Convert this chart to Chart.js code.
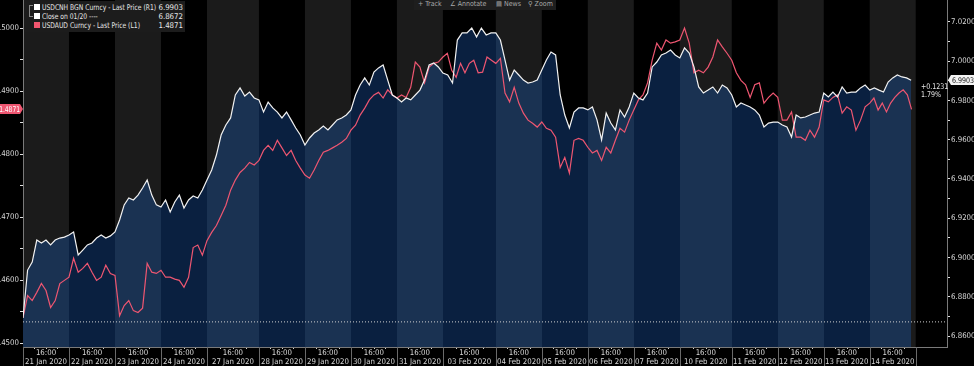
<!DOCTYPE html>
<html><head><meta charset="utf-8">
<script src="https://cdn.jsdelivr.net/npm/chart.js@4.4.1/dist/chart.umd.min.js"></script>
<style>
html,body{margin:0;padding:0;background:#000;overflow:hidden;}
#wrap{position:relative;width:974px;height:366px;}
#wrap canvas{display:block;}
.f{font-family:"Liberation Sans Narrow","DejaVu Sans Condensed","Liberation Sans",Arial,sans-serif;}
#legend{position:absolute;left:25px;top:1px;width:160px;height:31px;background:#1c1c1c;color:#e8e8e8;font-size:7.8px;}
#legend .row{position:absolute;left:9px;right:2px;height:9px;line-height:9px;}
#legend .sw{position:absolute;left:0;top:1px;width:6px;height:6px;}
#legend .nm{position:absolute;left:8px;top:0;white-space:nowrap;transform:scaleX(0.86);transform-origin:left center;}
#legend .vl{position:absolute;right:0;top:0;}
#brk{position:absolute;left:4px;top:4px;width:3px;height:10px;border-left:1px solid #888;border-top:1px solid #888;border-bottom:1px solid #888;}
#toolbar{position:absolute;left:414px;top:0;width:142px;height:10px;background:#1e1e1e;color:#a8a8a8;font-size:7px;line-height:9px;white-space:nowrap;}
#toolbar span{position:absolute;top:0;}
</style></head>
<body>
<div id="wrap">
<canvas id="c" width="974" height="366"></canvas>
<div id="legend" class="f">
  <div id="brk"></div>
  <div class="row" style="top:2px"><div class="sw" style="background:#fff"></div><div class="nm">USDCNH BGN Curncy - Last Price (R1)</div><div class="vl" id="v1"></div></div>
  <div class="row" style="top:11px"><div class="sw" style="background:#fff"></div><div class="nm">Close on 01/20 ----</div><div class="vl" id="v2"></div></div>
  <div class="row" style="top:20px"><div class="sw" style="background:#f0566f"></div><div class="nm">USDAUD Curncy - Last Price (L1)</div><div class="vl" id="v3"></div></div>
</div>
<div id="toolbar" class="f">
  <span style="left:4px">+ Track</span>
  <span style="left:36px">∠ Annotate</span>
  <span style="left:82px">▤ News</span>
  <span style="left:114px">⚲ Zoom</span>
</div>
</div>
<script>
// ---------- DATA ----------
const timeLabel = '16:00';
const dayLabels = ['21 Jan 2020','22 Jan 2020','23 Jan 2020','24 Jan 2020','27 Jan 2020','28 Jan 2020','29 Jan 2020','30 Jan 2020','31 Jan 2020','03 Feb 2020','04 Feb 2020','05 Feb 2020','06 Feb 2020','07 Feb 2020','10 Feb 2020','11 Feb 2020','12 Feb 2020','13 Feb 2020','14 Feb 2020'];
// session length in days (Mondays include the weekend re-open)
const dayLengths = [1,1,1,1,1.13,1,1,1,1,1.15,1,1,1,1,1.13,1,1,1,1];

// USDCNH BGN Curncy (right axis), intraday values per day
const usdcnh = [
 [6.8692,6.8936,6.8977,6.9089,6.9074,6.9089,6.9064,6.9089,6.9099,6.9104],
 [6.9115,6.9130,6.9013,6.9038,6.9064,6.9074,6.9099,6.9115,6.9099,6.9110],
 [6.9130,6.9191,6.9268,6.9303,6.9293,6.9318,6.9354,6.9395,6.9318,6.9268],
 [6.9257,6.9293,6.9232,6.9283,6.9318,6.9252,6.9293,6.9313,6.9303,6.9344],
 [6.9395,6.9446,6.9522,6.9624,6.9675,6.9711,6.9828,6.9864,6.9823,6.9843,6.9813],
 [6.9803,6.9741,6.9792,6.9762,6.9741,6.9711,6.9741,6.9701,6.9660,6.9624],
 [6.9573,6.9609,6.9634,6.9650,6.9670,6.9650,6.9675,6.9701,6.9711,6.9726],
 [6.9752,6.9828,6.9879,6.9915,6.9879,6.9945,6.9966,6.9981,6.9904,6.9828],
 [6.9813,6.9792,6.9813,6.9803,6.9828,6.9853,6.9904,6.9981,6.9991,6.9971],
 [6.9940,6.9930,6.9889,7.0108,7.0144,7.0144,7.0169,7.0124,7.0169,7.0134,7.0144],
 [7.0144,7.0108,7.0006,6.9904,6.9955,6.9930,6.9904,6.9889,6.9894,6.9904],
 [6.9955,7.0006,7.0047,7.0032,6.9828,6.9726,6.9660,6.9741,6.9762,6.9762],
 [6.9752,6.9767,6.9701,6.9599,6.9736,6.9685,6.9650,6.9752,6.9716,6.9767],
 [6.9838,6.9813,6.9803,6.9838,6.9971,6.9996,7.0032,7.0042,7.0057,7.0032],
 [7.0017,7.0068,7.0042,6.9971,6.9869,6.9838,6.9853,6.9869,6.9838,6.9879,6.9864],
 [6.9828,6.9767,6.9787,6.9777,6.9767,6.9752,6.9726,6.9665,6.9685,6.9690],
 [6.9690,6.9675,6.9665,6.9614,6.9726,6.9711,6.9716,6.9726,6.9736,6.9741],
 [6.9838,6.9818,6.9843,6.9818,6.9869,6.9838,6.9843,6.9843,6.9864,6.9879],
 [6.9853,6.9864,6.9853,6.9843,6.9894,6.9915,6.9930,6.9920,6.9915,6.9903]
];

// USDAUD Curncy (left axis), intraday values per day
const usdaud = [
 [1.4541,1.4576,1.4568,1.4581,1.4595,1.4584,1.4557,1.4568,1.4595,1.4600],
 [1.4605,1.4635,1.4613,1.4619,1.4627,1.4613,1.4600,1.4605,1.4624,1.4611],
 [1.4608,1.4544,1.4560,1.4568,1.4552,1.4549,1.4556,1.4627,1.4613,1.4611],
 [1.4616,1.4605,1.4605,1.4602,1.4600,1.4589,1.4605,1.4652,1.4656,1.4640],
 [1.4663,1.4676,1.4687,1.4703,1.4719,1.4743,1.4759,1.4771,1.4778,1.4787,1.4783],
 [1.4790,1.4806,1.4814,1.4806,1.4822,1.4810,1.4798,1.4806,1.4790,1.4778],
 [1.4767,1.4762,1.4775,1.4790,1.4803,1.4806,1.4810,1.4814,1.4819,1.4825],
 [1.4838,1.4846,1.4862,1.4873,1.4886,1.4894,1.4898,1.4889,1.4902,1.4894],
 [1.4889,1.4894,1.4890,1.4906,1.4946,1.4938,1.4913,1.4938,1.4944,1.4946],
 [1.4954,1.4960,1.4933,1.4922,1.4944,1.4929,1.4944,1.4949,1.4929,1.4930,1.4954,1.4949],
 [1.4944,1.4952,1.4897,1.4883,1.4906,1.4881,1.4865,1.4854,1.4849,1.4843],
 [1.4851,1.4841,1.4838,1.4827,1.4779,1.4795,1.4770,1.4822,1.4825,1.4822],
 [1.4811,1.4802,1.4806,1.4790,1.4811,1.4802,1.4822,1.4841,1.4835,1.4854],
 [1.4870,1.4886,1.4894,1.4913,1.4949,1.4976,1.4965,1.4981,1.4976,1.4978],
 [1.4981,1.5000,1.4976,1.4929,1.4933,1.4929,1.4938,1.4954,1.4981,1.4970,1.4960],
 [1.4949,1.4929,1.4917,1.4910,1.4890,1.4910,1.4913,1.4881,1.4890,1.4897],
 [1.4890,1.4854,1.4854,1.4867,1.4827,1.4827,1.4822,1.4838,1.4827,1.4843],
 [1.4886,1.4883,1.4890,1.4894,1.4865,1.4875,1.4870,1.4838,1.4854,1.4875],
 [1.4881,1.4889,1.4870,1.4881,1.4867,1.4881,1.4890,1.4897,1.4902,1.4894,1.4871]
];

const closeOn0120 = 6.8672;
const leftTickValues  = [1.450,1.455,1.460,1.465,1.470,1.475,1.480,1.485,1.490,1.495,1.500];
const rightTickValues = [6.86,6.87,6.88,6.89,6.90,6.91,6.92,6.93,6.94,6.95,6.96,6.97,6.98,6.99,7.00,7.01,7.02];
const leftRange  = [1.44944, 1.50444];
const rightRange = [6.8544, 7.0312];
const xRange = [0, 20.09];

// ---------- STYLE ----------
const FONT = '"Liberation Sans Narrow","DejaVu Sans Condensed","Liberation Sans",Arial,sans-serif';
const C = { white:'#f2f2f2', pink:'#ee5671', navyLight:'#1a3252', navyDark:'#0a2040', bandGray:'#1b1b1b', axis:'#7a7a7a', text:'#d8d8d8' };

// ---------- BUILD ----------
const dayStarts = [];
dayLengths.reduce((acc, l) => { dayStarts.push(acc); return acc + l; }, 0);
function toPoints(days) {
  const pts = [];
  days.forEach((vals, d) => vals.forEach((v, i) => pts.push({ x: dayStarts[d] + i / vals.length * dayLengths[d], y: v })));
  return pts;
}
const cnhPts = toPoints(usdcnh);
const audPts = toPoints(usdaud);
const lastCnh = cnhPts[cnhPts.length - 1].y;
const lastAud = audPts[audPts.length - 1].y;
const chg = lastCnh - closeOn0120;
document.getElementById('v1').textContent = lastCnh.toFixed(4);
document.getElementById('v2').textContent = closeOn0120.toFixed(4);
document.getElementById('v3').textContent = lastAud.toFixed(4);

function bandFill(ctx) {
  const chart = ctx.chart, ca = chart.chartArea, xs = chart.scales.x;
  if (!ca || !xs) return C.navyDark;
  const w = ca.right - ca.left;
  const g = chart.ctx.createLinearGradient(ca.left, 0, ca.right, 0);
  const cl = v => Math.min(1, Math.max(0, v));
  let last = 0;
  dayStarts.forEach((s, d) => {
    const a = cl((xs.getPixelForValue(s) - ca.left) / w);
    const b = cl((xs.getPixelForValue(s + dayLengths[d]) - ca.left) / w);
    const col = d % 2 === 0 ? C.navyLight : C.navyDark;
    g.addColorStop(a, col); g.addColorStop(b, col); last = b;
  });
  g.addColorStop(last, C.navyDark); g.addColorStop(1, C.navyDark);
  return g;
}

function narrowText(ctx, text, x, y, align, sx) {
  ctx.save();
  ctx.translate(x, y); ctx.scale(sx, 1);
  ctx.textAlign = align; ctx.fillText(text, 0, 0);
  ctx.restore();
}

const bandsPlugin = {
  id: 'bands',
  beforeDraw(chart) {
    const { ctx, chartArea: ca, scales: { x } } = chart;
    ctx.save();
    ctx.fillStyle = '#000'; ctx.fillRect(0, 0, chart.width, chart.height);
    dayStarts.forEach((s, d) => {
      if (d % 2 !== 0) return;
      const a = x.getPixelForValue(s), b = x.getPixelForValue(s + dayLengths[d]);
      ctx.fillStyle = C.bandGray; ctx.fillRect(a, ca.top, b - a, ca.bottom - ca.top);
    });
    ctx.restore();
  },
  afterDraw(chart) {
    const { ctx, chartArea: ca, scales: { x, yL, yR } } = chart;
    ctx.save();
    ctx.strokeStyle = '#6a6a6a'; ctx.lineWidth = 1;
    dayStarts.concat([dayStarts[dayStarts.length-1] + dayLengths[dayLengths.length-1]]).forEach(s => {
      const px = Math.round(x.getPixelForValue(s)) + 0.5;
      ctx.beginPath(); ctx.moveTo(px, ca.bottom); ctx.lineTo(px, chart.height); ctx.stroke();
    });
    ctx.fillStyle = '#cfcfcf';
    dayStarts.forEach((s, d) => {
      for (let q = 1; q < 4; q++) {
        const px = Math.round(x.getPixelForValue(s + q * dayLengths[d] / 4));
        ctx.fillRect(px, ca.bottom + 1, 1, 1);
      }
    });
    ctx.font = '7.8px ' + FONT; ctx.textBaseline = 'middle';
    const yl = Math.round(yL.getPixelForValue(lastAud));
    ctx.fillStyle = C.pink;
    ctx.fillRect(0, yl - 5, 20, 10);
    ctx.beginPath(); ctx.moveTo(20, yl - 5); ctx.lineTo(23, yl); ctx.lineTo(20, yl + 5); ctx.fill();
    ctx.fillStyle = '#fff';
    narrowText(ctx, lastAud.toFixed(4), 20, yl + 0.5, 'right', 0.85);
    const yr = Math.round(yR.getPixelForValue(lastCnh));
    ctx.fillStyle = '#f4f4f4';
    ctx.beginPath(); ctx.moveTo(948, yr); ctx.lineTo(951, yr - 5); ctx.lineTo(974, yr - 5); ctx.lineTo(974, yr + 5); ctx.lineTo(951, yr + 5); ctx.fill();
    ctx.fillStyle = '#111';
    narrowText(ctx, lastCnh.toFixed(4), 952, yr + 0.5, 'left', 0.9);
    ctx.fillStyle = '#e8e8e8';
    narrowText(ctx, (chg >= 0 ? '+' : '') + chg.toFixed(4), 921, yr + 7, 'left', 0.9);
    narrowText(ctx, (chg / closeOn0120 * 100).toFixed(2) + '%', 921, yr + 15, 'left', 0.9);
    ctx.restore();
  }
};

const isMajor = (v, step) => Math.abs(v / step - Math.round(v / step)) < 1e-6;
const noPad = s => { s.paddingTop = 0; s.paddingBottom = 0; s.paddingLeft = 0; s.paddingRight = 0; };

new Chart(document.getElementById('c'), {
  type: 'line',
  data: {
    datasets: [
      { label: 'USDCNH BGN Curncy - Last Price (R1)', data: cnhPts, yAxisID: 'yR', borderColor: C.white, borderWidth: 1.2, fill: 'start', backgroundColor: bandFill, order: 0 },
      { label: 'USDAUD Curncy - Last Price (L1)', data: audPts, yAxisID: 'yL', borderColor: C.pink, borderWidth: 1.2, fill: false, order: 1 },
      { label: 'Close on 01/20', data: [{ x: xRange[0], y: closeOn0120 }, { x: xRange[1], y: closeOn0120 }], yAxisID: 'yR', borderColor: '#d0d0d0', borderWidth: 1, borderDash: [1, 2], fill: false, order: 2 }
    ]
  },
  options: {
    responsive: false, animation: false, events: [],
    layout: { padding: 0 },
    elements: { point: { radius: 0 }, line: { tension: 0 } },
    plugins: { legend: { display: false }, tooltip: { enabled: false }, filler: { drawTime: 'beforeDatasetsDraw' } },
    scales: {
      x: {
        type: 'linear', min: xRange[0], max: xRange[1],
        afterBuildTicks: s => { s.ticks = dayStarts.map((st, d) => ({ value: st + dayLengths[d] / 2 })); },
        afterFit: s => { s.height = 19; noPad(s); },
        grid: { display: false, drawTicks: false },
        border: { display: true, color: C.axis },
        ticks: { autoSkip: false, maxRotation: 0, padding: 2, color: C.text, font: { family: FONT, size: 7.8, lineHeight: 1.12 },
                 callback: (v, i) => [timeLabel, dayLabels[i]] }
      },
      yL: {
        position: 'left', min: leftRange[0], max: leftRange[1],
        afterBuildTicks: s => { s.ticks = leftTickValues.map(v => ({ value: v })); },
        afterFit: s => { s.width = 23; noPad(s); },
        grid: { drawOnChartArea: false, drawTicks: true, tickLength: 3, tickColor: '#e0e0e0' },
        border: { display: true, color: C.axis },
        ticks: { autoSkip: false, padding: 1, color: C.text, font: { family: FONT, size: 7.8 },
                 callback: v => isMajor(v, 0.01) ? v.toFixed(4) : '' }
      },
      yR: {
        position: 'right', min: rightRange[0], max: rightRange[1],
        afterBuildTicks: s => { s.ticks = rightTickValues.map(v => ({ value: v })); },
        afterFit: s => { s.width = 27; noPad(s); },
        grid: { drawOnChartArea: false, drawTicks: true, tickLength: 3, tickColor: '#e0e0e0' },
        border: { display: true, color: C.axis },
        ticks: { autoSkip: false, padding: 1, color: C.text, font: { family: FONT, size: 7.8 },
                 callback: v => isMajor(v, 0.02) ? v.toFixed(4) : '' }
      }
    }
  },
  plugins: [bandsPlugin]
});
</script>
</body></html>
